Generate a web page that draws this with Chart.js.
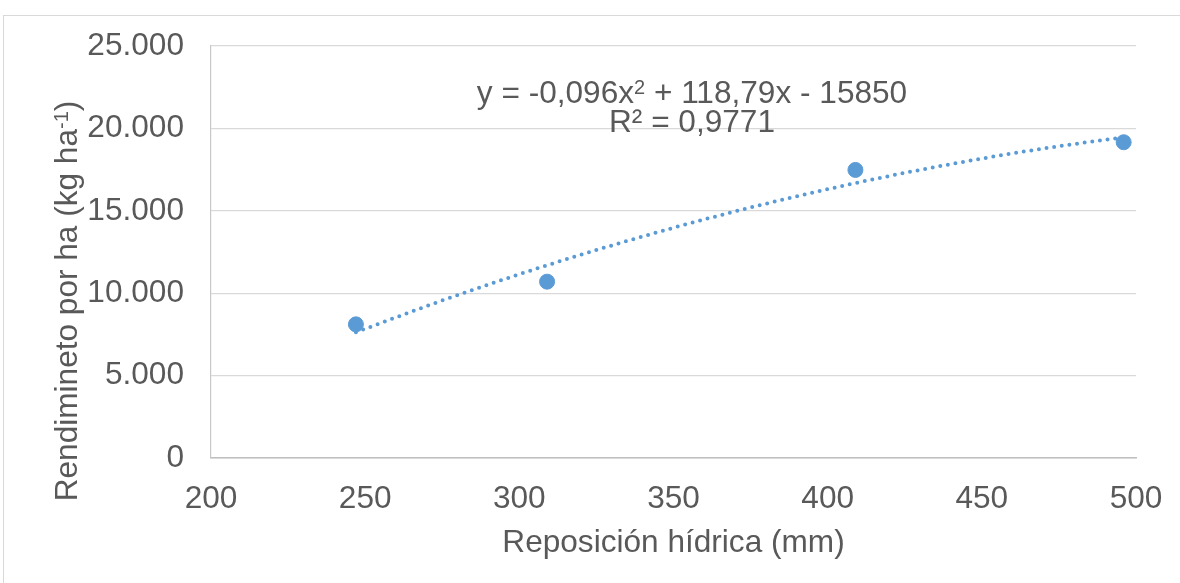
<!DOCTYPE html>
<html>
<head>
<meta charset="utf-8">
<script src="https://cdn.jsdelivr.net/npm/chart.js@4.4.1/dist/chart.umd.min.js"></script>
<style>
  html, body { margin: 0; padding: 0; background: #ffffff; }
  #wrap { width: 1180px; height: 583px; position: relative; }
</style>
</head>
<body>
<div id="wrap"><canvas id="yieldChart"></canvas></div>
<script>
// measured points
const reposicion = [247, 309, 409, 496];
const rendimiento = [8110, 10700, 17480, 19160];

// trendline
const trendX = [247, 275, 300, 325, 350, 375, 400, 425, 450, 475, 496];
const trendY = [7630, 9560, 11150, 12620, 13970, 15200, 16310, 17300, 18170, 18920, 19450];

const xTicks = [200, 250, 300, 350, 400, 450, 500];
const yTicks = [0, 5000, 10000, 15000, 20000, 25000];

const xTitle = 'Reposición hídrica (mm)';
const yTitle = [{ t: 'Rendimineto por ha (kg ha' }, { t: '-1', sup: true }, { t: ')' }];
const eqLine1 = [{ t: 'y = -0,096x' }, { t: '2', sup: true }, { t: ' + 118,79x - 15850' }];
const eqLine2 = [{ t: 'R² = 0,9771' }];

const blue = '#5b9bd5';
const textColor = '#595959';
const fontFamily = '"Liberation Sans", Arial, sans-serif';
const fontSize = 31.6;
const supSize = 20;

function fmtThousands(v) {
    return String(v).replace(/\B(?=(\d{3})+(?!\d))/g, '.');
}

// draws a line of text with superscript parts, centred on x
function drawRich(ctx, parts, x, y) {
    let total = 0;
    parts.forEach(p => {
        ctx.font = (p.sup ? supSize : fontSize) + 'px ' + fontFamily;
        p.w = ctx.measureText(p.t).width;
        total += p.w;
    });
    let cx = x - total / 2;
    ctx.textAlign = 'left';
    ctx.textBaseline = 'alphabetic';
    parts.forEach(p => {
        ctx.font = (p.sup ? supSize : fontSize) + 'px ' + fontFamily;
        ctx.fillText(p.t, cx, p.sup ? y - 9 : y);
        cx += p.w;
    });
}

const textPlugin = {
    id: 'textPlugin',
    beforeDraw(chart) {
        const ctx = chart.ctx;
        ctx.save();
        ctx.strokeStyle = '#d9d9d9';
        ctx.lineWidth = 1;
        ctx.strokeRect(3.5, 15.5, 1200, 600);
        ctx.restore();
    },
    afterDraw(chart) {
        const ctx = chart.ctx;
        const area = chart.chartArea;
        ctx.save();
        ctx.fillStyle = textColor;

        // x axis title
        drawRich(ctx, [{ t: xTitle }], (area.left + area.right) / 2, 552);

        // y axis title
        ctx.save();
        ctx.translate(77, 301);
        ctx.rotate(-Math.PI / 2);
        drawRich(ctx, yTitle, 0, 0);
        ctx.restore();

        // trendline equation
        drawRich(ctx, eqLine1, 692, 103);
        drawRich(ctx, eqLine2, 692, 132);
        ctx.restore();
    }
};

function initializeChart() {
    const ctx = document.getElementById('yieldChart').getContext('2d');
    chart = new Chart(ctx, {
        type: 'scatter',
        data: {
            datasets: [{
                label: 'Rendimiento',
                data: reposicion.map((x, i) => ({ x: x, y: rendimiento[i] })),
                backgroundColor: blue,
                borderColor: blue,
                pointRadius: 7.5,
                pointHoverRadius: 7.5,
                order: 1
            }, {
                label: 'Tendencia',
                data: trendX.map((x, i) => ({ x: x, y: trendY[i] })),
                showLine: true,
                borderColor: blue,
                borderWidth: 4,
                borderDash: [0, 7.7],
                borderCapStyle: 'round',
                cubicInterpolationMode: 'monotone',
                pointRadius: 0,
                order: 2
            }]
        },
        options: {
            responsive: true,
            maintainAspectRatio: false,
            animation: false,
            events: [],
            layout: {
                padding: { top: 46, right: 44, bottom: 0, left: 0 }
            },
            scales: {
                x: {
                    type: 'linear',
                    min: 200,
                    max: 500,
                    afterFit: s => {
                        s.height = 125;
                        s.paddingLeft = 0;
                        s.paddingRight = 0;
                    },
                    afterBuildTicks: s => { s.ticks = xTicks.map(v => ({ value: v })); },
                    grid: { display: false, drawTicks: false },
                    border: { display: true, color: '#bfbfbf', width: 1.5 },
                    ticks: {
                        color: textColor,
                        padding: 22,
                        maxRotation: 0,
                        font: { family: fontFamily, size: fontSize }
                    }
                },
                y: {
                    type: 'linear',
                    min: 0,
                    max: 25000,
                    afterFit: s => {
                        s.width = 211;
                        s.paddingTop = 0;
                        s.paddingBottom = 0;
                    },
                    afterBuildTicks: s => { s.ticks = yTicks.map(v => ({ value: v })); },
                    grid: { color: '#d9d9d9', lineWidth: 1.2, drawTicks: false },
                    border: { display: true, color: '#c8c8c8', width: 1.2 },
                    ticks: {
                        color: textColor,
                        padding: 27,
                        font: { family: fontFamily, size: fontSize },
                        callback: v => fmtThousands(v)
                    }
                }
            },
            plugins: {
                legend: { display: false },
                tooltip: { enabled: false }
            }
        },
        plugins: [textPlugin]
    });
}

let chart;
document.addEventListener('DOMContentLoaded', () => {
    initializeChart();
});
</script>
</body>
</html>
